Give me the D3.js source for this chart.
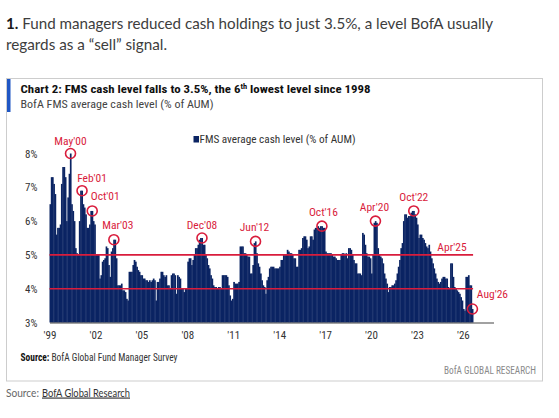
<!DOCTYPE html>
<html lang="en">
<head>
<meta charset="utf-8">
<title>FMS cash level</title>
<script src="https://cdn.jsdelivr.net/npm/d3@7"></script>
<style>
  body { margin: 0; background: #fff; }
  svg { display: block; }
  .cond { font-family: "Liberation Sans Narrow", "Roboto Condensed", Roboto, sans-serif; }
  .page { font-family: Lato, "Open Sans", sans-serif; }
</style>
</head>
<body>
<script>
// BofA FMS average cash level (% of AUM), monthly from Jan 1999
var cashLevel = [
  6.5, 7.3, 7.3, 7.1, 6.8, 5.6, 5.8, 5.8, 5.9, 7.1, 7.6, 7.6,        // 1999
  7.3, 6.0, 6.7, 7.4, 8.0, 6.5, 6.3, 6.0, 5.2, 5.05, 5.0, 6.0,       // 2000
  6.9, 6.9, 6.5, 6.4, 6.2, 5.8, 5.8, 5.9, 6.3, 6.3, 6.0, 5.9,        // 2001
  5.0, 5.0, 5.0, 4.3, 4.4, 4.8, 4.85, 4.9, 5.25, 5.2, 4.7, 4.35,     // 2002
  5.1, 5.2, 5.45, 5.45, 4.9, 4.1, 4.1, 4.1, 4.15, 3.95, 3.95, 3.9,   // 2003
  3.7, 3.65, 4.5, 4.5, 4.5, 4.7, 4.85, 4.8, 4.65, 4.55, 4.5, 4.4,    // 2004
  4.4, 4.3, 4.3, 4.25, 4.25, 4.2, 4.25, 4.2, 4.25, 4.3, 4.25, 3.65,  // 2005
  4.2, 4.2, 4.3, 4.5, 4.5, 4.4, 4.35, 4.4, 4.1, 4.1, 4.0, 4.4,       // 2006
  4.45, 4.45, 4.4, 3.85, 4.4, 4.35, 4.3, 4.0, 4.0, 3.9, 4.0, 4.0,    // 2007
  4.8, 4.9, 4.9, 4.7, 4.85, 5.0, 5.2, 5.2, 5.3, 5.45, 5.5, 5.5,      // 2008
  5.3, 5.3, 5.0, 4.9, 4.7, 4.6, 4.4, 4.3, 4.1, 4.05, 4.05, 4.0,      // 2009
  4.05, 4.05, 4.0, 4.4, 4.4, 4.4, 4.4, 4.35, 4.1, 3.8, 3.65, 3.7,    // 2010
  4.2, 4.15, 4.15, 4.15, 4.2, 5.25, 5.25, 5.25, 5.05, 5.05, 5.0, 4.95, // 2011
  4.95, 4.45, 4.45, 4.7, 5.35, 5.4, 5.05, 4.75, 4.65, 4.45, 4.25, 4.1, // 2012
  4.05, 3.85, 4.25, 4.35, 4.6, 4.65, 4.65, 4.65, 4.6, 4.6, 4.6, 4.6,   // 2013
  4.65, 4.85, 4.85, 5.0, 5.0, 5.0, 5.15, 5.1, 5.05, 5.05, 5.0, 4.9,    // 2014
  4.9, 4.65, 4.65, 5.15, 5.15, 5.2, 5.5, 5.55, 5.55, 5.45, 5.2, 5.25,  // 2015
  5.55, 5.55, 5.45, 5.75, 5.8, 5.8, 5.85, 5.8, 5.85, 5.85, 5.8, 5.8,   // 2016
  5.1, 5.05, 5.05, 5.05, 5.05, 5.0, 4.95, 4.95, 4.9, 4.85, 4.85, 4.85, // 2017
  5.0, 5.05, 5.05, 5.0, 5.05, 4.9, 5.2, 5.2, 5.15, 5.0, 4.85, 4.75,    // 2018
  4.75, 4.45, 4.45, 4.45, 4.4, 5.65, 5.6, 5.3, 5.05, 4.95, 4.95, 4.9,  // 2019
  4.45, 5.0, 5.95, 6.0, 5.95, 5.2, 5.0, 4.95, 4.9, 4.75, 4.45, 4.3,    // 2020
  4.15, 3.9, 4.05, 4.05, 4.1, 4.1, 4.15, 4.25, 4.45, 4.65, 4.85, 5.2,  // 2021
  5.35, 6.0, 6.2, 6.2, 6.1, 6.15, 6.15, 6.25, 6.3, 6.3, 6.2, 6.1,      // 2022
  5.9, 5.5, 5.6, 5.6, 5.5, 5.45, 5.35, 5.25, 5.2, 5.3, 5.1, 4.9,       // 2023
  4.75, 4.6, 4.45, 4.3, 4.2, 4.15, 4.2, 4.3, 4.35, 4.35, 4.3, 4.3,     // 2024
  4.05, 4.0, 4.75, 4.75, 4.35, 4.05, 4.0, 3.95, 3.9, 3.85, 3.75, 3.65, // 2025
  3.4, 3.35, 4.35, 4.35, 4.4, 4.1, 4.1, 3.4                            // 2026 (to Aug)
];

var yTicks = [3, 4, 5, 6, 7, 8];
var xTickYears = [1999, 2002, 2005, 2008, 2011, 2014, 2017, 2020, 2023, 2026];
var xTickLabels = ["'99", "'02", "'05", "'08", "'11", "'14", "'17", "'20", "'23", "'26"];
var refLevels = [5, 4];

// highlighted months: label, month index from Jan 1999
var noteLabels = ["May'00", "Feb'01", "Oct'01", "Mar'03", "Dec'08", "Jun'12", "Oct'16", "Apr'20", "Oct'22", "Apr'25", "Aug'26"];
var noteMonths = [16, 25, 33, 50, 119, 161, 213, 255, 285, 315, 331];

var w = 559, h = 418;
var navy = "#0b2463", red = "#d91c3c";

var months = cashLevel.map(function (v, i) {
  return { start: new Date(1999, i, 1), end: new Date(1999, i + 1, 1), value: v };
});

var x = d3.scaleTime()
  .domain([new Date(1999, 0, 1), new Date(2028, 0, 1)])
  .range([49.5, 493.5]);
var y = d3.scaleLinear().domain([3, 8]).range([322.5, 153.5]);

var svg = d3.select("body").append("svg").attr("width", w).attr("height", h);

// headline above the chart
var head = svg.append("g").attr("class", "page").style("font-size", "15px").attr("fill", "#3d3d3d");
var l1 = head.append("text").attr("x", 6).attr("y", 28.5)
  .attr("textLength", 487).attr("lengthAdjust", "spacingAndGlyphs");
l1.append("tspan").attr("font-weight", "bold").attr("fill", "#1a1a1a").text("1.");
l1.append("tspan").text(" Fund managers reduced cash holdings to just 3.5%, a level BofA usually");
head.append("text").attr("x", 6).attr("y", 49.5)
  .attr("textLength", 161).attr("lengthAdjust", "spacingAndGlyphs")
  .text("regards as a \u201csell\u201d signal.");

// chart frame
svg.append("rect").attr("x", 6.5).attr("y", 78.5).attr("width", 536).attr("height", 302.5)
  .attr("fill", "none").attr("stroke", "#cdcdcd");
svg.append("rect").attr("x", 7).attr("y", 79).attr("width", 3.5).attr("height", 33).attr("fill", "#1f56c4");

var chart = svg.append("g").attr("class", "cond");

chart.append("text").attr("x", 20.5).attr("y", 92.5)
  .attr("font-weight", "bold").attr("font-size", 11.5).attr("fill", "#111")
  .attr("textLength", 350).attr("lengthAdjust", "spacingAndGlyphs")
  .call(function (t) {
    t.append("tspan").text("Chart 2: FMS cash level falls to 3.5%, the 6");
    t.append("tspan").attr("font-size", 7.5).attr("dy", -4).text("th");
    t.append("tspan").attr("dy", 4).text(" lowest level since 1998");
  });
chart.append("text").attr("x", 20.5).attr("y", 108.3)
  .attr("font-size", 11.5).attr("fill", "#444")
  .attr("textLength", 193).attr("lengthAdjust", "spacingAndGlyphs")
  .text("BofA FMS average cash level (% of AUM)");

// legend
chart.append("rect").attr("x", 193.5).attr("y", 136).attr("width", 5.5).attr("height", 6.5).attr("fill", navy);
chart.append("text").attr("x", 199.5).attr("y", 142.5)
  .attr("font-size", 10.5).attr("fill", "#333")
  .attr("textLength", 156).attr("lengthAdjust", "spacingAndGlyphs")
  .text("FMS average cash level (% of AUM)");

// bars
chart.append("g").selectAll("rect")
  .data(months)
  .enter()
  .append("rect")
  .attr("x", function (d) { return x(d.start); })
  .attr("width", function (d) { return x(d.end) - x(d.start) + 0.4; })
  .attr("y", function (d) { return y(d.value); })
  .attr("height", function (d) { return y(3) - y(d.value); })
  .attr("fill", navy);

// 5% and 4% reference lines
chart.append("g").selectAll("line")
  .data(refLevels)
  .enter()
  .append("line")
  .attr("x1", x(months[0].start))
  .attr("x2", x(months[months.length - 1].end))
  .attr("y1", function (d) { return y(d); })
  .attr("y2", function (d) { return y(d); })
  .attr("stroke", red)
  .attr("stroke-width", 1.6);

// axes
var xAxis = d3.axisBottom(x)
  .tickValues(xTickYears.map(function (yr) { return new Date(yr, 0, 1); }))
  .tickFormat(function (d, i) { return xTickLabels[i]; })
  .tickSize(0).tickSizeOuter(0).tickPadding(9);
var gx = chart.append("g").attr("transform", "translate(0," + y(3) + ")").call(xAxis);
gx.select(".domain").attr("stroke", "#444").attr("stroke-width", 1.2);
gx.selectAll("text").attr("font-size", 11).attr("fill", "#333");
gx.attr("font-family", null);

var yAxis = d3.axisLeft(y).tickValues(yTicks)
  .tickFormat(function (d) { return d + "%"; })
  .tickSize(0).tickPadding(0);
var gy = chart.append("g").attr("transform", "translate(37.5,0)").call(yAxis);
gy.select(".domain").remove();
gy.selectAll("text").attr("font-size", 11).attr("fill", "#333");
gy.attr("font-family", null);

// annotations
var noteDx = [0, 10, 13, 4, 0, -1, 1.5, -1, 0, 0, 20];
var noteDy = [-9, -9, -10.5, -10.5, -9, -10.5, -10, -10, -9.5, -4, -11];
var notes = noteLabels.map(function (lab, i) {
  var m = months[noteMonths[i]];
  var cx = (x(m.start) + x(m.end)) / 2;
  var cy = lab === "Apr'25" ? y(5) : y(m.value);
  return { label: lab, cx: cx, cy: cy, ring: lab !== "Apr'25", dx: noteDx[i], dy: noteDy[i] };
});

var ng = chart.append("g");
ng.selectAll("circle")
  .data(notes.filter(function (d) { return d.ring; }))
  .enter()
  .append("circle")
  .attr("cx", function (d) { return d.cx; })
  .attr("cy", function (d) { return d.cy; })
  .attr("r", 5)
  .attr("fill", "none")
  .attr("stroke", red)
  .attr("stroke-width", 1.6);
ng.selectAll("text")
  .data(notes)
  .enter()
  .append("text")
  .attr("x", function (d) { return d.cx + d.dx; })
  .attr("y", function (d) { return d.cy + d.dy; })
  .attr("text-anchor", "middle")
  .attr("font-size", 11.5)
  .attr("fill", red)
  .text(function (d) { return d.label; });

// source lines inside the frame
chart.append("text").attr("x", 20.5).attr("y", 360.5)
  .attr("font-size", 10).attr("fill", "#333")
  .attr("textLength", 157).attr("lengthAdjust", "spacingAndGlyphs")
  .call(function (t) {
    t.append("tspan").attr("font-weight", "bold").attr("fill", "#111").text("Source:");
    t.append("tspan").text(" BofA Global Fund Manager Survey");
  });
chart.append("text").attr("x", 536).attr("y", 373.5)
  .attr("text-anchor", "end")
  .attr("font-size", 10).attr("fill", "#8a8a8a")
  .attr("textLength", 92).attr("lengthAdjust", "spacingAndGlyphs")
  .text("BofA GLOBAL RESEARCH");

// page source line
svg.append("text").attr("class", "page").attr("x", 6).attr("y", 396.5)
  .attr("font-size", 11.5).attr("fill", "#666")
  .attr("textLength", 33).attr("lengthAdjust", "spacingAndGlyphs")
  .text("Source:");
svg.append("text").attr("class", "page").attr("x", 42).attr("y", 396.5)
  .attr("font-size", 11.5).attr("fill", "#333")
  .attr("text-decoration", "underline")
  .attr("textLength", 88).attr("lengthAdjust", "spacingAndGlyphs")
  .text("BofA Global Research");
</script>
</body>
</html>
